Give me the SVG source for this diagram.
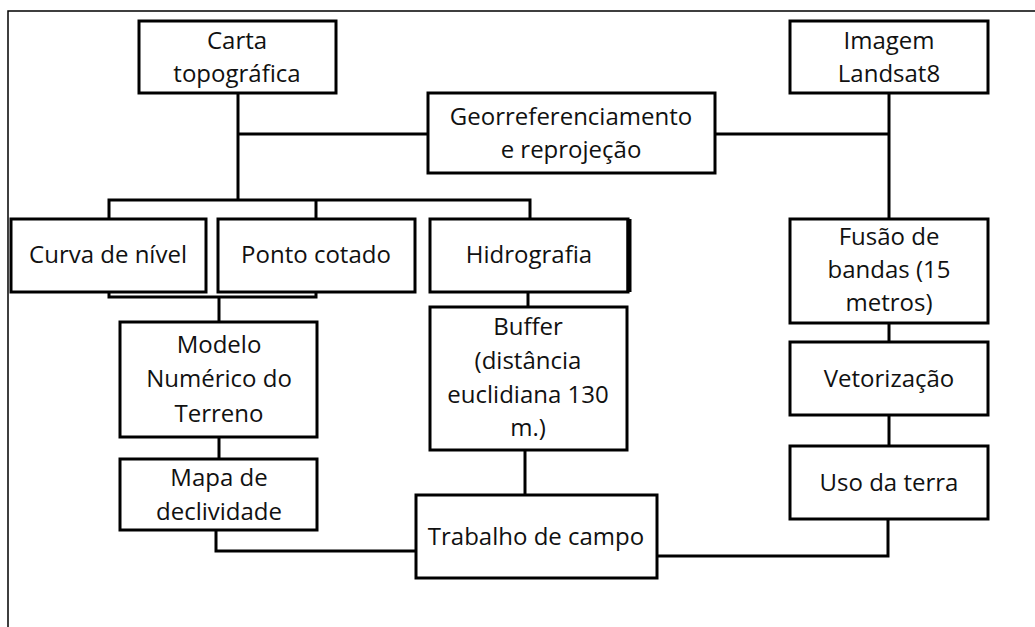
<svg xmlns="http://www.w3.org/2000/svg" width="1035" height="627" viewBox="0 0 1035 627">
<style>
.box{fill:#fff;stroke:#000;stroke-width:3}
.ln{fill:none;stroke:#000;stroke-width:3}
text{font-family:"Open Sans","Liberation Sans",sans-serif;font-size:24px;fill:#111;text-anchor:middle}
</style>
<rect width="1035" height="627" fill="#fff"/>
<path d="M8,627 V11 H1035" fill="none" stroke="#000" stroke-width="1.5"/>
<g id="connectors" class="ln">
<path d="M238,93 V200"/>
<path d="M238,134 H428"/>
<path d="M715,134 H889"/>
<path d="M889,93 V219"/>
<path d="M109,219 V200 H530 V219"/>
<path d="M316,200 V219"/>
<path d="M109,292 V297 H316 V292"/>
<path d="M219,297 V322"/>
<path d="M219,437 V459"/>
<path d="M528,292 V307"/>
<path d="M525,450 V495"/>
<path d="M216,530 V551 H416"/>
<path d="M889,323 V342"/>
<path d="M889,415 V446"/>
<path d="M888,519 V556 H657"/>
</g>
<g id="carta"><rect class="box" x="139" y="21" width="197" height="72"/><text x="237" y="49">Carta</text><text x="237" y="82">topográfica</text></g>
<g id="imagem"><rect class="box" x="790" y="21" width="198" height="72"/><text x="889" y="49">Imagem</text><text x="889" y="82">Landsat8</text></g>
<g id="georref"><rect class="box" x="428" y="93" width="287" height="80"/><text x="571" y="125">Georreferenciamento</text><text x="571" y="158">e reprojeção</text></g>
<g id="curva"><rect class="box" x="11" y="219" width="195" height="73"/><text x="108" y="263">Curva de nível</text></g>
<g id="ponto"><rect class="box" x="218" y="219" width="197" height="73"/><text x="316" y="263">Ponto cotado</text></g>
<g id="hidro"><rect class="box" x="430" y="219" width="198" height="73"/><path d="M629,219 V292" stroke="#000" stroke-width="5"/><text x="529" y="263">Hidrografia</text></g>
<g id="modelo"><rect class="box" x="120" y="322" width="197" height="115"/><text x="219" y="353">Modelo</text><text x="219" y="387">Numérico do</text><text x="219" y="422">Terreno</text></g>
<g id="mapa"><rect class="box" x="120" y="459" width="197" height="71"/><text x="219" y="486">Mapa de</text><text x="219" y="520">declividade</text></g>
<g id="buffer"><rect class="box" x="430" y="307" width="197" height="143"/><text x="528" y="335">Buffer</text><text x="528" y="369">(distância</text><text x="528" y="403">euclidiana 130</text><text x="528" y="436">m.)</text></g>
<g id="trabalho"><rect class="box" x="416" y="495" width="241" height="83"/><text x="536" y="545">Trabalho de campo</text></g>
<g id="fusao"><rect class="box" x="790" y="219" width="198" height="104"/><text x="889" y="245">Fusão de</text><text x="889" y="278">bandas (15</text><text x="889" y="311">metros)</text></g>
<g id="vetor"><rect class="box" x="790" y="342" width="198" height="73"/><text x="889" y="387">Vetorização</text></g>
<g id="uso"><rect class="box" x="790" y="446" width="198" height="73"/><text x="889" y="491">Uso da terra</text></g>
</svg>
